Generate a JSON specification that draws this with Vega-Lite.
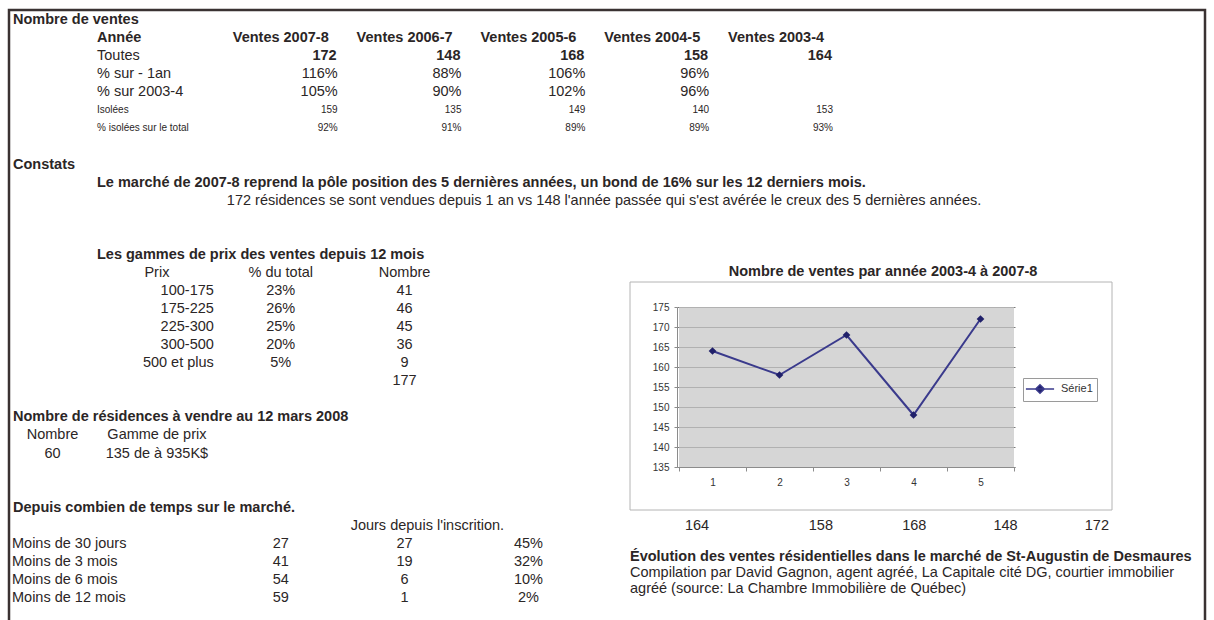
{
  "$schema": "https://vega.github.io/schema/vega-lite/v6.json",
  "width": 1196,
  "height": 613,
  "padding": {"left": 9, "top": 10, "right": 9, "bottom": -3},
  "autosize": {"type": "none"},
  "background": "#ffffff",
  "config": {
    "font": "Liberation Sans",
    "view": {"stroke": "#3a3232", "strokeWidth": 2.5},
    "text": {"font": "Liberation Sans", "fontSize": 14.5, "color": "#2b2626", "baseline": "middle"}
  },
  "datasets": {
    "feuille": [
      {"ligne": 1, "colonne": "A", "bloc": "ventes", "role": "titre", "texte": "Nombre de ventes"},
      {"ligne": 2, "colonne": "B", "bloc": "ventes", "role": "entete", "texte": "Année"},
      {"ligne": 2, "colonne": "C", "bloc": "ventes", "role": "entete", "texte": "Ventes 2007-8"},
      {"ligne": 2, "colonne": "D", "bloc": "ventes", "role": "entete", "texte": "Ventes 2006-7"},
      {"ligne": 2, "colonne": "E", "bloc": "ventes", "role": "entete", "texte": "Ventes 2005-6"},
      {"ligne": 2, "colonne": "F", "bloc": "ventes", "role": "entete", "texte": "Ventes 2004-5"},
      {"ligne": 2, "colonne": "G", "bloc": "ventes", "role": "entete", "texte": "Ventes 2003-4"},
      {"ligne": 3, "colonne": "B", "bloc": "ventes", "role": "etiquette", "texte": "Toutes"},
      {"ligne": 3, "colonne": "C", "bloc": "ventes", "role": "total", "texte": "172"},
      {"ligne": 3, "colonne": "D", "bloc": "ventes", "role": "total", "texte": "148"},
      {"ligne": 3, "colonne": "E", "bloc": "ventes", "role": "total", "texte": "168"},
      {"ligne": 3, "colonne": "F", "bloc": "ventes", "role": "total", "texte": "158"},
      {"ligne": 3, "colonne": "G", "bloc": "ventes", "role": "total", "texte": "164"},
      {"ligne": 4, "colonne": "B", "bloc": "ventes", "role": "etiquette", "texte": "% sur - 1an"},
      {"ligne": 4, "colonne": "C", "bloc": "ventes", "role": "valeur", "texte": "116%"},
      {"ligne": 4, "colonne": "D", "bloc": "ventes", "role": "valeur", "texte": "88%"},
      {"ligne": 4, "colonne": "E", "bloc": "ventes", "role": "valeur", "texte": "106%"},
      {"ligne": 4, "colonne": "F", "bloc": "ventes", "role": "valeur", "texte": "96%"},
      {"ligne": 5, "colonne": "B", "bloc": "ventes", "role": "etiquette", "texte": "% sur 2003-4"},
      {"ligne": 5, "colonne": "C", "bloc": "ventes", "role": "valeur", "texte": "105%"},
      {"ligne": 5, "colonne": "D", "bloc": "ventes", "role": "valeur", "texte": "90%"},
      {"ligne": 5, "colonne": "E", "bloc": "ventes", "role": "valeur", "texte": "102%"},
      {"ligne": 5, "colonne": "F", "bloc": "ventes", "role": "valeur", "texte": "96%"},
      {"ligne": 6, "colonne": "B", "bloc": "ventes", "role": "detail_etiquette", "texte": "Isolées"},
      {"ligne": 6, "colonne": "C", "bloc": "ventes", "role": "detail", "texte": "159"},
      {"ligne": 6, "colonne": "D", "bloc": "ventes", "role": "detail", "texte": "135"},
      {"ligne": 6, "colonne": "E", "bloc": "ventes", "role": "detail", "texte": "149"},
      {"ligne": 6, "colonne": "F", "bloc": "ventes", "role": "detail", "texte": "140"},
      {"ligne": 6, "colonne": "G", "bloc": "ventes", "role": "detail", "texte": "153"},
      {"ligne": 7, "colonne": "B", "bloc": "ventes", "role": "detail_etiquette", "texte": "% isolées sur le total"},
      {"ligne": 7, "colonne": "C", "bloc": "ventes", "role": "detail", "texte": "92%"},
      {"ligne": 7, "colonne": "D", "bloc": "ventes", "role": "detail", "texte": "91%"},
      {"ligne": 7, "colonne": "E", "bloc": "ventes", "role": "detail", "texte": "89%"},
      {"ligne": 7, "colonne": "F", "bloc": "ventes", "role": "detail", "texte": "89%"},
      {"ligne": 7, "colonne": "G", "bloc": "ventes", "role": "detail", "texte": "93%"},
      {"ligne": 9, "colonne": "A", "bloc": "constats", "role": "titre", "texte": "Constats"},
      {"ligne": 10, "colonne": "B", "bloc": "constats", "role": "constat_principal", "texte": "Le marché de 2007-8 reprend la pôle position des 5 dernières années, un bond de 16% sur les 12 derniers mois."},
      {"ligne": 11, "colonne": "C", "bloc": "constats", "role": "constat", "texte": "172 résidences se sont vendues depuis 1 an vs 148 l'année passée qui s'est avérée le creux des 5 dernières années."},
      {"ligne": 14, "colonne": "B", "bloc": "gammes", "role": "sous_titre", "texte": "Les gammes de prix des ventes depuis 12 mois"},
      {"ligne": 15, "colonne": "B", "bloc": "gammes", "role": "entete", "texte": "Prix"},
      {"ligne": 15, "colonne": "C", "bloc": "gammes", "role": "entete", "texte": "% du total"},
      {"ligne": 15, "colonne": "D", "bloc": "gammes", "role": "entete", "texte": "Nombre"},
      {"ligne": 16, "colonne": "B", "bloc": "gammes", "role": "gamme", "texte": "100-175"},
      {"ligne": 16, "colonne": "C", "bloc": "gammes", "role": "valeur", "texte": "23%"},
      {"ligne": 16, "colonne": "D", "bloc": "gammes", "role": "valeur", "texte": "41"},
      {"ligne": 17, "colonne": "B", "bloc": "gammes", "role": "gamme", "texte": "175-225"},
      {"ligne": 17, "colonne": "C", "bloc": "gammes", "role": "valeur", "texte": "26%"},
      {"ligne": 17, "colonne": "D", "bloc": "gammes", "role": "valeur", "texte": "46"},
      {"ligne": 18, "colonne": "B", "bloc": "gammes", "role": "gamme", "texte": "225-300"},
      {"ligne": 18, "colonne": "C", "bloc": "gammes", "role": "valeur", "texte": "25%"},
      {"ligne": 18, "colonne": "D", "bloc": "gammes", "role": "valeur", "texte": "45"},
      {"ligne": 19, "colonne": "B", "bloc": "gammes", "role": "gamme", "texte": "300-500"},
      {"ligne": 19, "colonne": "C", "bloc": "gammes", "role": "valeur", "texte": "20%"},
      {"ligne": 19, "colonne": "D", "bloc": "gammes", "role": "valeur", "texte": "36"},
      {"ligne": 20, "colonne": "B", "bloc": "gammes", "role": "gamme", "texte": "500 et plus"},
      {"ligne": 20, "colonne": "C", "bloc": "gammes", "role": "valeur", "texte": "5%"},
      {"ligne": 20, "colonne": "D", "bloc": "gammes", "role": "valeur", "texte": "9"},
      {"ligne": 21, "colonne": "D", "bloc": "gammes", "role": "valeur", "texte": "177"},
      {"ligne": 23, "colonne": "A", "bloc": "residences", "role": "titre", "texte": "Nombre de résidences à vendre au 12 mars 2008"},
      {"ligne": 24, "colonne": "A", "bloc": "residences", "role": "entete", "texte": "Nombre"},
      {"ligne": 24, "colonne": "B", "bloc": "residences", "role": "entete", "texte": "Gamme de prix"},
      {"ligne": 25, "colonne": "A", "bloc": "residences", "role": "valeur", "texte": "60"},
      {"ligne": 25, "colonne": "B", "bloc": "residences", "role": "valeur", "texte": "135 de à 935K$"},
      {"ligne": 28, "colonne": "A", "bloc": "marche", "role": "titre", "texte": "Depuis combien de temps sur le marché."},
      {"ligne": 29, "colonne": "D", "bloc": "marche", "role": "entete", "texte": "Jours depuis l'inscrition."},
      {"ligne": 30, "colonne": "A", "bloc": "marche", "role": "etiquette", "texte": "Moins de 30 jours"},
      {"ligne": 30, "colonne": "C", "bloc": "marche", "role": "valeur", "texte": "27"},
      {"ligne": 30, "colonne": "D", "bloc": "marche", "role": "valeur", "texte": "27"},
      {"ligne": 30, "colonne": "E", "bloc": "marche", "role": "valeur", "texte": "45%"},
      {"ligne": 31, "colonne": "A", "bloc": "marche", "role": "etiquette", "texte": "Moins de 3 mois"},
      {"ligne": 31, "colonne": "C", "bloc": "marche", "role": "valeur", "texte": "41"},
      {"ligne": 31, "colonne": "D", "bloc": "marche", "role": "valeur", "texte": "19"},
      {"ligne": 31, "colonne": "E", "bloc": "marche", "role": "valeur", "texte": "32%"},
      {"ligne": 32, "colonne": "A", "bloc": "marche", "role": "etiquette", "texte": "Moins de 6 mois"},
      {"ligne": 32, "colonne": "C", "bloc": "marche", "role": "valeur", "texte": "54"},
      {"ligne": 32, "colonne": "D", "bloc": "marche", "role": "valeur", "texte": "6"},
      {"ligne": 32, "colonne": "E", "bloc": "marche", "role": "valeur", "texte": "10%"},
      {"ligne": 33, "colonne": "A", "bloc": "marche", "role": "etiquette", "texte": "Moins de 12 mois"},
      {"ligne": 33, "colonne": "C", "bloc": "marche", "role": "valeur", "texte": "59"},
      {"ligne": 33, "colonne": "D", "bloc": "marche", "role": "valeur", "texte": "1"},
      {"ligne": 33, "colonne": "E", "bloc": "marche", "role": "valeur", "texte": "2%"},
      {"ligne": 29, "colonne": "F", "bloc": "serie", "role": "valeur", "texte": "164"},
      {"ligne": 29, "colonne": "G", "bloc": "serie", "role": "valeur", "texte": "158"},
      {"ligne": 29, "colonne": "H", "bloc": "serie", "role": "valeur", "texte": "168"},
      {"ligne": 29, "colonne": "I", "bloc": "serie", "role": "valeur", "texte": "148"},
      {"ligne": 29, "colonne": "J", "bloc": "serie", "role": "valeur", "texte": "172"}
    ],
    "ventes": [
      {"rang": 1, "saison": "2003-4", "ventes": 164, "nom_serie": "Série1"},
      {"rang": 2, "saison": "2004-5", "ventes": 158, "nom_serie": "Série1"},
      {"rang": 3, "saison": "2005-6", "ventes": 168, "nom_serie": "Série1"},
      {"rang": 4, "saison": "2006-7", "ventes": 148, "nom_serie": "Série1"},
      {"rang": 5, "saison": "2007-8", "ventes": 172, "nom_serie": "Série1"}
    ],
    "graphique": [
      {"graphique": "Nombre de ventes par année  2003-4 à 2007-8", "partie": "titre", "ligne": 0, "texte": "Nombre de ventes par année  2003-4 à 2007-8"},
      {"graphique": "Nombre de ventes par année  2003-4 à 2007-8", "partie": "legende", "ligne": 1, "texte": "Évolution des ventes résidentielles dans le marché de St-Augustin de Desmaures"},
      {"graphique": "Nombre de ventes par année  2003-4 à 2007-8", "partie": "legende", "ligne": 2, "texte": "Compilation par David Gagnon, agent agréé, La Capitale cité DG, courtier immobilier"},
      {"graphique": "Nombre de ventes par année  2003-4 à 2007-8", "partie": "legende", "ligne": 3, "texte": "agréé (source: La Chambre Immobilière de Québec)"}
    ]
  },
  "layer": [
    {
      "data": {"name": "feuille"},
      "encoding": {
        "y": {"field": "ligne", "type": "ordinal", "scale": {"type": "point", "domain": [1,2,3,4,5,6,7,8,9,10,11,12,13,14,15,16,17,18,19,20,21,22,23,24,25,26,27,28,29,30,31,32,33], "range": [10, 588], "padding": 0}, "axis": null},
        "text": {"field": "texte", "type": "nominal"}
      },
      "layer": [
        {
          "transform": [{"filter": "datum.colonne === 'A'"}],
          "layer": [
            {"transform": [{"filter": "datum.role === 'titre'"}],
             "mark": {"type": "text", "align": "left", "fontWeight": "bold", "dx": 3},
             "encoding": {"x": {"field": "colonne", "type": "nominal", "bandPosition": 0, "scale": {"type": "band", "domain": ["A"], "range": [1, 86], "paddingInner": 0, "paddingOuter": 0}, "axis": null}}},
            {"transform": [{"filter": "datum.bloc === 'marche' && datum.role === 'etiquette'"}],
             "mark": {"type": "text", "align": "left", "dx": 2},
             "encoding": {"x": {"field": "colonne", "type": "nominal", "bandPosition": 0, "scale": {"type": "band", "domain": ["A"], "range": [1, 86], "paddingInner": 0, "paddingOuter": 0}, "axis": null}}},
            {"transform": [{"filter": "datum.bloc === 'residences' && datum.role !== 'titre'"}],
             "mark": {"type": "text", "align": "center"},
             "encoding": {"x": {"field": "colonne", "type": "nominal", "bandPosition": 0.5, "scale": {"type": "band", "domain": ["A"], "range": [1, 86], "paddingInner": 0, "paddingOuter": 0}, "axis": null}}}
          ]
        },
        {
          "transform": [{"filter": "indexof(['B','C','D','E','F','G'], datum.colonne) >= 0"}],
          "layer": [
            {"transform": [{"filter": "datum.colonne === 'B' && (datum.role === 'constat_principal' || datum.role === 'sous_titre' || (datum.bloc === 'ventes' && datum.role === 'entete'))"}],
             "mark": {"type": "text", "align": "left", "fontWeight": "bold", "dx": 2},
             "encoding": {"x": {"field": "colonne", "type": "nominal", "bandPosition": 0, "scale": {"type": "band", "domain": ["B","C","D","E","F","G"], "range": [86, 829], "paddingInner": 0, "paddingOuter": 0}, "axis": null}}},
            {"transform": [{"filter": "datum.bloc === 'ventes' && datum.role === 'entete' && datum.colonne !== 'B'"}],
             "mark": {"type": "text", "align": "center", "fontWeight": "bold"},
             "encoding": {"x": {"field": "colonne", "type": "nominal", "bandPosition": 0.5, "scale": {"type": "band", "domain": ["B","C","D","E","F","G"], "range": [86, 829], "paddingInner": 0, "paddingOuter": 0}, "axis": null}}},
            {"transform": [{"filter": "datum.role === 'total'"}],
             "mark": {"type": "text", "align": "right", "fontWeight": "bold", "dx": -6},
             "encoding": {"x": {"field": "colonne", "type": "nominal", "bandPosition": 1, "scale": {"type": "band", "domain": ["B","C","D","E","F","G"], "range": [86, 829], "paddingInner": 0, "paddingOuter": 0}, "axis": null}}},
            {"transform": [{"filter": "datum.bloc === 'ventes' && datum.role === 'etiquette'"}],
             "mark": {"type": "text", "align": "left", "dx": 2},
             "encoding": {"x": {"field": "colonne", "type": "nominal", "bandPosition": 0, "scale": {"type": "band", "domain": ["B","C","D","E","F","G"], "range": [86, 829], "paddingInner": 0, "paddingOuter": 0}, "axis": null}}},
            {"transform": [{"filter": "datum.role === 'constat' || (datum.bloc === 'marche' && datum.role === 'entete')"}],
             "mark": {"type": "text", "align": "left", "dx": 8},
             "encoding": {"x": {"field": "colonne", "type": "nominal", "bandPosition": 0, "scale": {"type": "band", "domain": ["B","C","D","E","F","G"], "range": [86, 829], "paddingInner": 0, "paddingOuter": 0}, "axis": null}}},
            {"transform": [{"filter": "datum.role === 'detail_etiquette'"}],
             "mark": {"type": "text", "align": "left", "dx": 2, "fontSize": 10},
             "encoding": {"x": {"field": "colonne", "type": "nominal", "bandPosition": 0, "scale": {"type": "band", "domain": ["B","C","D","E","F","G"], "range": [86, 829], "paddingInner": 0, "paddingOuter": 0}, "axis": null}}},
            {"transform": [{"filter": "(datum.bloc === 'ventes' && datum.role === 'valeur') || datum.bloc === 'serie' || datum.role === 'gamme'"}],
             "mark": {"type": "text", "align": "right", "dx": -5},
             "encoding": {"x": {"field": "colonne", "type": "nominal", "bandPosition": 1, "scale": {"type": "band", "domain": ["B","C","D","E","F","G"], "range": [86, 829], "paddingInner": 0, "paddingOuter": 0}, "axis": null}}},
            {"transform": [{"filter": "datum.role === 'detail'"}],
             "mark": {"type": "text", "align": "right", "dx": -5, "fontSize": 10},
             "encoding": {"x": {"field": "colonne", "type": "nominal", "bandPosition": 1, "scale": {"type": "band", "domain": ["B","C","D","E","F","G"], "range": [86, 829], "paddingInner": 0, "paddingOuter": 0}, "axis": null}}},
            {"transform": [{"filter": "(datum.bloc === 'gammes' && (datum.role === 'entete' || datum.role === 'valeur')) || (datum.bloc === 'residences' && datum.role !== 'titre') || (datum.bloc === 'marche' && datum.role === 'valeur')"}],
             "mark": {"type": "text", "align": "center"},
             "encoding": {"x": {"field": "colonne", "type": "nominal", "bandPosition": 0.5, "scale": {"type": "band", "domain": ["B","C","D","E","F","G"], "range": [86, 829], "paddingInner": 0, "paddingOuter": 0}, "axis": null}}}
          ]
        },
        {
          "transform": [{"filter": "indexof(['H','I','J'], datum.colonne) >= 0"}],
          "mark": {"type": "text", "align": "right", "dx": -3},
          "encoding": {"x": {"field": "colonne", "type": "nominal", "bandPosition": 1, "scale": {"type": "band", "domain": ["H","I","J"], "range": [829, 1103], "paddingInner": 0, "paddingOuter": 0}, "axis": null}}
        }
      ],
      "resolve": {"scale": {"x": "independent"}}
    },
    {
      "data": {"name": "graphique"},
      "layer": [
        {
          "transform": [{"filter": "datum.partie === 'titre'"}],
          "encoding": {
            "y": {"field": "graphique", "type": "nominal", "scale": {"type": "band", "domain": ["Nombre de ventes par année  2003-4 à 2007-8"], "range": [272, 500], "paddingInner": 0, "paddingOuter": 0}, "axis": null}
          },
          "layer": [
            {"mark": {"type": "rect", "filled": false, "color": "#b4b4b4", "strokeWidth": 1},
             "encoding": {"x": {"field": "graphique", "type": "nominal", "scale": {"type": "band", "domain": ["Nombre de ventes par année  2003-4 à 2007-8"], "range": [621, 1103], "paddingInner": 0, "paddingOuter": 0}, "axis": null}}},
            {"mark": {"type": "text", "align": "center", "fontWeight": "bold", "dx": 12, "dy": -10},
             "encoding": {
               "x": {"field": "graphique", "type": "nominal", "bandPosition": 0.5, "scale": {"type": "band", "domain": ["Nombre de ventes par année  2003-4 à 2007-8"], "range": [621, 1103], "paddingInner": 0, "paddingOuter": 0}, "axis": null},
               "y": {"field": "graphique", "type": "nominal", "bandPosition": 0, "scale": {"type": "band", "domain": ["Nombre de ventes par année  2003-4 à 2007-8"], "range": [272, 500], "paddingInner": 0, "paddingOuter": 0}, "axis": null},
               "text": {"field": "texte", "type": "nominal"}}}
          ]
        },
        {
          "transform": [{"filter": "datum.partie === 'legende'"}],
          "encoding": {
            "x": {"field": "graphique", "type": "nominal", "bandPosition": 0, "scale": {"type": "band", "domain": ["Nombre de ventes par année  2003-4 à 2007-8"], "range": [621, 1103], "paddingInner": 0, "paddingOuter": 0}, "axis": null},
            "y": {"field": "ligne", "type": "ordinal", "scale": {"type": "point", "domain": [1, 2, 3], "range": [547, 579], "padding": 0}, "axis": null},
            "text": {"field": "texte", "type": "nominal"}
          },
          "layer": [
            {"transform": [{"filter": "datum.ligne === 1"}], "mark": {"type": "text", "align": "left", "fontWeight": "bold"}},
            {"transform": [{"filter": "datum.ligne > 1"}], "mark": {"type": "text", "align": "left"}}
          ]
        }
      ],
      "resolve": {"scale": {"y": "independent"}}
    },
    {
      "data": {"name": "ventes"},
      "encoding": {
        "x": {"field": "rang", "type": "ordinal",
              "scale": {"type": "band", "domain": [1, 2, 3, 4, 5], "range": [668, 1006], "paddingInner": 0, "paddingOuter": 0, "round": true},
              "axis": {"orient": "bottom", "offset": -156, "title": null, "labelAngle": 0, "labelFont": "Liberation Sans", "labelFontSize": 10, "labelColor": "#333333", "domainColor": "#8c8c8c", "tickColor": "#8c8c8c", "tickSize": 4, "tickBand": "extent", "labelPadding": 6, "grid": false}}
      },
      "layer": [
        {"mark": {"type": "bar", "color": "#c6c6c6", "opacity": 0.72},
         "encoding": {
           "y": {"datum": 175, "type": "quantitative", "scale": {"domain": [135, 175], "range": [457, 297], "nice": false, "zero": false},
                 "axis": {"orient": "left", "offset": -668, "title": null, "values": [135, 140, 145, 150, 155, 160, 165, 170, 175], "labelFont": "Liberation Sans", "labelFontSize": 10, "labelColor": "#333333", "domainColor": "#8c8c8c", "tickColor": "#8c8c8c", "tickSize": 3, "labelPadding": 5, "grid": true, "gridColor": "#7a7a7a", "gridOpacity": 1}},
           "y2": {"datum": 135}}},
        {"mark": {"type": "line", "strokeWidth": 2},
         "encoding": {
           "y": {"field": "ventes", "type": "quantitative", "scale": {"domain": [135, 175], "range": [457, 297], "nice": false, "zero": false},
                 "axis": {"orient": "left", "offset": -668, "title": null, "values": [135, 140, 145, 150, 155, 160, 165, 170, 175], "labelFont": "Liberation Sans", "labelFontSize": 10, "labelColor": "#333333", "domainColor": "#8c8c8c", "tickColor": "#8c8c8c", "tickSize": 3, "labelPadding": 5, "grid": true, "gridColor": "#7a7a7a", "gridOpacity": 1}},
           "color": {"field": "nom_serie", "type": "nominal", "scale": {"range": ["#3a3a8c"]},
                     "legend": {"title": null, "orient": "none", "legendX": 1014, "legendY": 368, "strokeColor": "#9a9a9a", "fillColor": "#ffffff", "padding": 4, "labelFont": "Liberation Sans", "labelFontSize": 11, "labelColor": "#333333", "symbolType": "M-2.3,0H2.3M0,-0.7L0.7,0L0,0.7L-0.7,0Z", "symbolSize": 150, "symbolStrokeWidth": 1.5, "symbolOffset": 6, "labelOffset": 14, "encode": {"symbols": {"update": {"fill": {"value": "#20206a"}, "stroke": {"value": "#3a3a8c"}}}}}}}},
        {"mark": {"type": "point", "shape": "diamond", "filled": true, "size": 60, "color": "#20206a", "opacity": 1},
         "encoding": {
           "y": {"field": "ventes", "type": "quantitative", "scale": {"domain": [135, 175], "range": [457, 297], "nice": false, "zero": false},
                 "axis": {"orient": "left", "offset": -668, "title": null, "values": [135, 140, 145, 150, 155, 160, 165, 170, 175], "labelFont": "Liberation Sans", "labelFontSize": 10, "labelColor": "#333333", "domainColor": "#8c8c8c", "tickColor": "#8c8c8c", "tickSize": 3, "labelPadding": 5, "grid": true, "gridColor": "#7a7a7a", "gridOpacity": 1}}}}
      ]
    }
  ],
  "resolve": {"scale": {"x": "independent", "y": "independent", "color": "independent"}}
}
